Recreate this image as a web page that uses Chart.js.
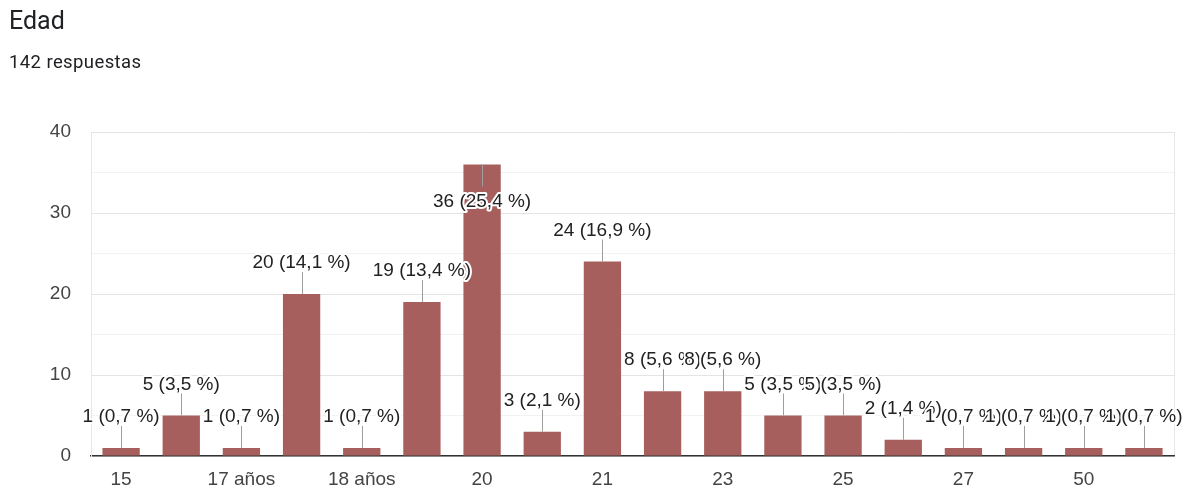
<!DOCTYPE html>
<html>
<head>
<meta charset="utf-8">
<script src="https://cdn.jsdelivr.net/npm/chart.js@4/dist/chart.umd.min.js"></script>
<style>
  html, body { margin: 0; padding: 0; background: #fff; }
  #wrap { position: relative; width: 1184px; height: 491px; overflow: hidden; }
  #title { position: absolute; left: 9px; top: 6px; font: 25px Roboto, "Noto Sans", sans-serif; color: #202124; }
  #sub { position: absolute; left: 9px; top: 51px; font: 18.5px Roboto, "Noto Sans", sans-serif; letter-spacing: 0.4px; color: #202124; }
  canvas { position: absolute; left: 0; top: 0; }
</style>
</head>
<body>
<div id="wrap">
  <canvas id="c" width="1184" height="491"></canvas>
  <div id="title">Edad</div>
  <div id="sub">142 respuestas</div>
</div>
<script>
// Age answers and their counts
const categories = ["15", "16", "17 años", "17", "18 años", "18", "20", "19", "21", "22",
                    "23", "24", "25", "26", "27", "30", "50", "19 años"];
const counts = [1, 5, 1, 20, 1, 19, 36, 3, 24, 8, 8, 5, 5, 2, 1, 1, 1, 1];
const yTickValues = [0, 10, 20, 30, 40];

const total = counts.reduce((a, b) => a + b, 0);
const LABEL_FONT = '19px "Liberation Sans", Arial, sans-serif';

// Value + percentage annotations with a short leader line above each bar
const annotations = {
  id: 'annotations',
  afterDatasetsDraw(chart) {
    const ctx = chart.ctx;
    const area = chart.chartArea;
    const meta = chart.getDatasetMeta(0);
    ctx.save();
    ctx.font = LABEL_FONT;
    ctx.textAlign = 'center';
    ctx.textBaseline = 'middle';
    meta.data.forEach((bar, i) => {
      const v = counts[i];
      const pct = (v / total * 100).toFixed(1).replace('.', ',');
      const text = v + ' (' + pct + ' %)';
      let ty = bar.y - 31;
      let ly = bar.y - 22;
      if (ty - 10 < area.top + 8) { ty = bar.y + 37; ly = bar.y + 22; }
      ctx.strokeStyle = '#9e9e9e';
      ctx.lineWidth = 1;
      ctx.beginPath();
      ctx.moveTo(Math.round(bar.x) + 0.5, bar.y);
      ctx.lineTo(Math.round(bar.x) + 0.5, ly);
      ctx.stroke();
      ctx.lineJoin = 'round';
      ctx.lineWidth = 4;
      ctx.strokeStyle = '#ffffff';
      ctx.strokeText(text, bar.x, ty);
      ctx.fillStyle = '#222222';
      ctx.fillText(text, bar.x, ty);
    });
    ctx.restore();
  }
};

new Chart(document.getElementById('c'), {
  type: 'bar',
  data: {
    labels: categories,
    datasets: [{
      data: counts,
      backgroundColor: '#a65f5c',
      borderWidth: 0,
      barPercentage: 0.62,
      categoryPercentage: 1.0
    }]
  },
  options: {
    responsive: false,
    animation: false,
    events: [],
    layout: { padding: { left: 0, right: 10, top: 132, bottom: 0 } },
    plugins: { legend: { display: false }, tooltip: { enabled: false } },
    scales: {
      x: {
        grid: {
          drawTicks: false,
          color: (c) => (c.type === 'tick' && c.index > 0) ? 'rgba(0,0,0,0)' : '#e6e6e6'
        },
        border: { display: true, color: '#333333', width: 1.5 },
        afterFit: (s) => { s.height = 35; },
        ticks: {
          autoSkip: false,
          maxRotation: 0,
          padding: 12,
          color: '#444444',
          font: { family: '"Liberation Sans", Arial, sans-serif', size: 19 },
          callback: (val, i) => (i % 2 === 0 ? categories[i] : '')
        }
      },
      y: {
        min: 0,
        max: 40,
        afterFit: (s) => { s.width = 91; },
        border: { display: true, color: '#e6e6e6' },
        grid: {
          drawTicks: false,
          color: (c) => (c.tick && c.tick.value % 10 === 0) ? '#e4e4e4' : '#f2f2f2'
        },
        ticks: {
          stepSize: 5,
          padding: 20,
          color: '#444444',
          font: { family: '"Liberation Sans", Arial, sans-serif', size: 19 },
          callback: (v) => (yTickValues.includes(v) ? String(v) : '')
        }
      }
    }
  },
  plugins: [annotations]
});
</script>
</body>
</html>
